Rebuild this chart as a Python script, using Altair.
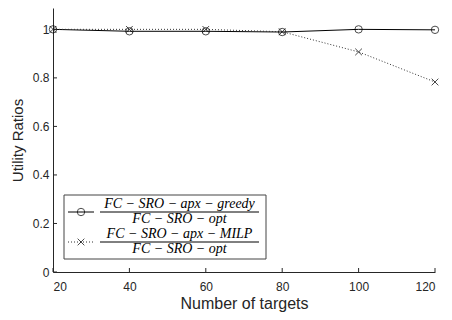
import altair as alt
import pandas as pd

targets = [20, 40, 60, 80, 100, 120]
greedy = [1.0, 0.992, 0.992, 0.989, 1.0, 0.998]
milp = [1.0, 1.0, 1.0, 0.99, 0.907, 0.783]
x_ticks = [20, 40, 60, 80, 100, 120]
y_ticks = [0, 0.2, 0.4, 0.6, 0.8, 1.0]
num1 = "FC − SRO − apx − greedy"
num2 = "FC − SRO − apx − MILP"
den = "FC − SRO − opt"

W, H = 382, 264
AX = "#262626"

df = pd.DataFrame({"t": targets, "greedy": greedy, "milp": milp})
xs = alt.Scale(domain=[20, 120], nice=False)
ys = alt.Scale(domain=[0, 1.088], nice=False)

xenc = alt.X("t:Q", scale=xs, axis=alt.Axis(values=x_ticks, tickSize=0, labelPadding=9,
             labelFontSize=12, labelColor=AX, domainColor=AX, grid=False,
             title="Number of targets", titleFontSize=16, titleFontWeight="normal",
             titleColor=AX, titleY=36, titleBaseline="alphabetic",
             labelFont="Liberation Sans", titleFont="Liberation Sans"))
yaxis = alt.Axis(values=y_ticks, tickSize=0, labelPadding=4, format=".1~f",
                 labelFontSize=12, labelColor=AX, domainColor=AX, grid=False,
                 title="Utility Ratios", titleFontSize=15, titleFontWeight="normal",
                 titleColor=AX, titleX=-36, titleBaseline="middle",
                 labelFont="Liberation Sans", titleFont="Liberation Sans")

base = alt.Chart(df)
l1 = base.mark_line(color="black", strokeWidth=1).encode(x=xenc, y=alt.Y("greedy:Q", scale=ys, axis=yaxis))
p1 = base.mark_point(shape="circle", filled=False, color="black", size=55, strokeWidth=1).encode(
    x=alt.X("t:Q", scale=xs), y=alt.Y("greedy:Q", scale=ys))
l2 = base.mark_line(color="#333333", strokeWidth=1, strokeDash=[1, 2]).encode(
    x=alt.X("t:Q", scale=xs), y=alt.Y("milp:Q", scale=ys))
cross = "M-1,-1L1,1M1,-1L-1,1"
p2 = base.mark_point(shape=cross, filled=False, color="black", size=45, strokeWidth=1).encode(
    x=alt.X("t:Q", scale=xs), y=alt.Y("milp:Q", scale=ys))

xt = alt.Chart(pd.DataFrame({"v": x_ticks})).mark_rule(color=AX, strokeWidth=1).encode(
    x=alt.X("v:Q", scale=xs), y=alt.value(H), y2=alt.value(H - 4))
yt = alt.Chart(pd.DataFrame({"v": y_ticks})).mark_rule(color=AX, strokeWidth=1).encode(
    y=alt.Y("v:Q", scale=ys), x=alt.value(0), x2=alt.value(4))

one = pd.DataFrame({"a": [0]})
box = alt.Chart(one).mark_rect(fill="white", stroke="#444444", strokeWidth=1).encode(
    x=alt.value(11), x2=alt.value(213), y=alt.value(187), y2=alt.value(251))
sym1 = alt.Chart(one).mark_rule(color="black", strokeWidth=1).encode(
    x=alt.value(15), x2=alt.value(41), y=alt.value(204))
sym2 = alt.Chart(one).mark_rule(color="#333333", strokeWidth=1, strokeDash=[1, 2]).encode(
    x=alt.value(15), x2=alt.value(41), y=alt.value(234))
mk1 = alt.Chart(one).mark_point(shape="circle", filled=False, color="black", size=55, strokeWidth=1).encode(
    x=alt.value(28), y=alt.value(204))
mk2 = alt.Chart(one).mark_point(shape=cross, filled=False, color="black", size=45, strokeWidth=1).encode(
    x=alt.value(28), y=alt.value(234))
bar1 = alt.Chart(one).mark_rule(color="black", strokeWidth=1).encode(
    x=alt.value(47), x2=alt.value(206), y=alt.value(204))
bar2 = alt.Chart(one).mark_rule(color="black", strokeWidth=1).encode(
    x=alt.value(47), x2=alt.value(206), y=alt.value(234))
tfont = dict(font="Liberation Serif", fontStyle="italic", fontSize=14, color="black", align="center")
n1 = alt.Chart(one).mark_text(baseline="alphabetic", **tfont).encode(
    x=alt.value(126.5), y=alt.value(200), text=alt.value(num1))
d1 = alt.Chart(one).mark_text(baseline="alphabetic", **tfont).encode(
    x=alt.value(126.5), y=alt.value(215), text=alt.value(den))
n2 = alt.Chart(one).mark_text(baseline="alphabetic", **tfont).encode(
    x=alt.value(126.5), y=alt.value(230), text=alt.value(num2))
d2 = alt.Chart(one).mark_text(baseline="alphabetic", **tfont).encode(
    x=alt.value(126.5), y=alt.value(245), text=alt.value(den))

chart = alt.layer(l1, l2, p1, p2, xt, yt, box, sym1, sym2, mk1, mk2, bar1, bar2, n1, d1, n2, d2).properties(
    width=W, height=H, autosize=alt.AutoSizeParams(type="none"),
    padding={"left": 45, "top": 0, "right": 9, "bottom": 40}
).configure_view(stroke=None).configure_axis(domainWidth=1)

chart.save("out.html", embed_options={"renderer": "svg", "actions": False})
